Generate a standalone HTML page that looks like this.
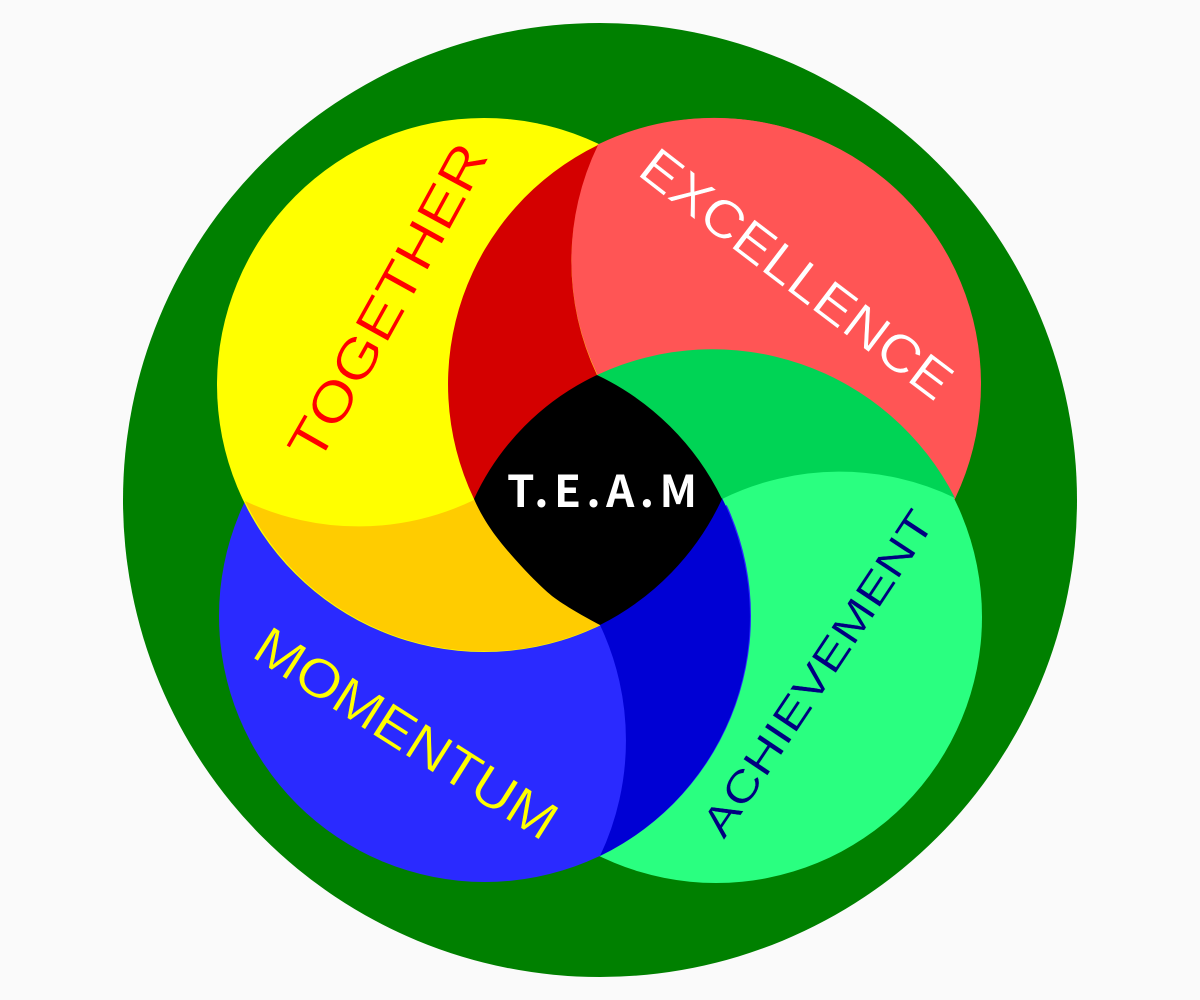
<!DOCTYPE html>
<html>
<head>
<meta charset="utf-8">
<style>
html,body{margin:0;padding:0;background:#fafafa;}
svg{display:block;}
.h{font-family:"Liberation Sans",sans-serif;stroke-linejoin:round;}
</style>
</head>
<body>
<svg width="1200" height="1000" viewBox="0 0 1200 1000" xmlns="http://www.w3.org/2000/svg">
<defs>
<path id="p1" d="M318,465 Q400,322 490,155"/>
<path id="p2" d="M636,174 Q757,268 936,403"/>
<path id="p3" d="M250,656 Q375,736 543,842"/>
<path id="p4" d="M724,840 Q827,687 936,522"/>
</defs>
<rect width="1200" height="1000" fill="#fafafa"/>
<circle cx="600" cy="500" r="477" fill="#008000"/>
<circle cx="715" cy="384" r="266" fill="#ff5555"/>
<circle cx="716" cy="617" r="266" fill="#2aff80"/>
<circle cx="485" cy="616" r="266" fill="#2a2aff"/>
<circle cx="484" cy="385" r="267" fill="#ffff00"/>
<path d="M598,145 A266,266 0 0 1 955,497 L840,430 L598,375 A266,266 0 0 1 598,145 Z" fill="#ff5555" stroke="#ff5555" stroke-width="1"/>
<circle cx="724" cy="501" r="5" fill="#2aff80"/>
<path d="M598,145 A266,266 0 0 0 474,499 L597,375 A266,266 0 0 1 598,145 Z" fill="#d40000"/>
<path d="M597,375 A272,272 0 0 1 955,498 A266,266 0 0 0 722,499 Z" fill="#00d455"/>
<path d="M722,498 A266,266 0 0 1 600,856 A270,270 0 0 0 600,625 Z" fill="#0000d4"/>
<path d="M245,501 A266,266 0 0 0 474,500 L600,625 A266,266 0 0 1 245,501 Z" fill="#ffcc00"/>
<path d="M597,375 A266,266 0 0 1 722,499 A266,266 0 0 1 600,625 C585,617 565,606 552,596 C535,582 510,555 495,535 C490,528 482,517 474,499 A255,255 0 0 1 597,375 Z" fill="#000"/>
<text class="h" font-size="54" fill="#ff0000" stroke="#ffff00" stroke-width="0.5"><textPath href="#p1" textLength="354" lengthAdjust="spacingAndGlyphs">TOGETHER</textPath></text>
<text class="h" font-size="53" fill="#ffffff" stroke="#ff5555" stroke-width="0.5"><textPath href="#p2" textLength="377" lengthAdjust="spacingAndGlyphs">EXCELLENCE</textPath></text>
<text class="h" font-size="54" fill="#ffff00" stroke="#2a2aff" stroke-width="0.5"><textPath href="#p3" textLength="347" lengthAdjust="spacingAndGlyphs">MOMENTUM</textPath></text>
<text class="h" font-size="42" fill="#000080" stroke="#2aff80" stroke-width="0.3"><textPath href="#p4" textLength="382" lengthAdjust="spacingAndGlyphs">ACHIEVEMENT</textPath></text>
<text x="507" y="507" font-family="'Noto Sans CJK JP','Liberation Sans',sans-serif" font-weight="700" font-size="44" fill="#ffffff" textLength="190" lengthAdjust="spacing">T.E.A.M</text>
</svg>
</body>
</html>
